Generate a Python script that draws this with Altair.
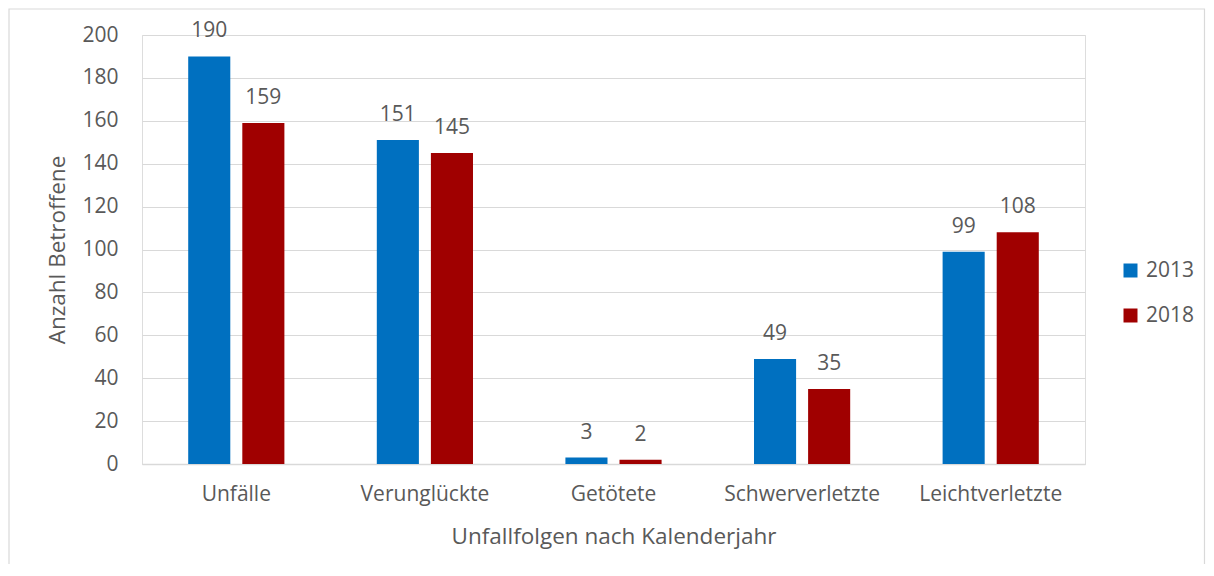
import altair as alt
import pandas as pd

categories = ["Unfälle", "Verunglückte", "Getötete", "Schwerverletzte", "Leichtverletzte"]
years = ["2013", "2018"]
values_2013 = [190, 151, 3, 49, 99]
values_2018 = [159, 145, 2, 35, 108]

rows = []
for c, v in zip(categories, values_2013):
    rows.append({"Kategorie": c, "Jahr": "2013", "Wert": v})
for c, v in zip(categories, values_2018):
    rows.append({"Kategorie": c, "Jahr": "2018", "Wert": v})
df = pd.DataFrame(rows)

FONT = "Open Sans"
GRAY = "#595959"
LS = 21
TS = 22.5

x_enc = alt.X("Kategorie:N", sort=categories,
              scale=alt.Scale(paddingInner=0.49, paddingOuter=0.245),
              axis=alt.Axis(title="Unfallfolgen nach Kalenderjahr", labelAngle=0,
                            labelFontSize=LS, labelColor=GRAY, labelFont=FONT,
                            labelPadding=19, ticks=False, domainColor="#d9d9d9",
                            domainWidth=1.5, titleFontSize=TS, titleFont=FONT,
                            titleColor=GRAY, titleFontWeight="normal", titlePadding=21))
xo_enc = alt.XOffset("Jahr:N", sort=years, scale=alt.Scale(paddingInner=0.222, paddingOuter=0))
y_enc = alt.Y("Wert:Q", scale=alt.Scale(domain=[0, 200]),
              axis=alt.Axis(title="Anzahl Betroffene", values=list(range(0, 201, 20)),
                            labelFontSize=LS, labelColor=GRAY, labelFont=FONT,
                            labelPadding=24, ticks=False, domain=False,
                            gridColor="#d9d9d9", gridWidth=1.2,
                            titleFontSize=TS, titleFont=FONT, titleColor=GRAY,
                            titleFontWeight="normal", titlePadding=12))
color_enc = alt.Color("Jahr:N", sort=years,
                      scale=alt.Scale(domain=years, range=["#0070c0", "#a00000"]),
                      legend=alt.Legend(title=None, orient="none", legendX=978, legendY=225,
                                        symbolType="square", symbolSize=196,
                                        symbolStrokeWidth=0, labelFontSize=LS,
                                        labelFont=FONT, labelColor=GRAY,
                                        rowPadding=23, labelOffset=5))

border = alt.Chart(pd.DataFrame({"a": [0]})).mark_rect(
    fill=None, stroke="#d9d9d9", strokeWidth=1.2
).encode(x=alt.value(-133), x2=alt.value(1062.5), y=alt.value(-26), y2=alt.value(560))

bars = alt.Chart(df).mark_bar().encode(x=x_enc, xOffset=xo_enc, y=y_enc, color=color_enc)
labels = alt.Chart(df).mark_text(dy=-25, fontSize=LS, font=FONT, color=GRAY).encode(
    x=alt.X("Kategorie:N", sort=categories), xOffset=alt.XOffset("Jahr:N", sort=years),
    y="Wert:Q", text="Wert:Q")

chart = alt.layer(border, bars, labels).properties(
    width=943, height=429,
    autosize=alt.AutoSizeParams(type="none"),
    padding={"left": 134, "top": 27, "right": 121, "bottom": 100},
).configure_view(stroke=None).configure(background="white")

chart.save("out.html", embed_options={"renderer": "svg", "actions": False})
